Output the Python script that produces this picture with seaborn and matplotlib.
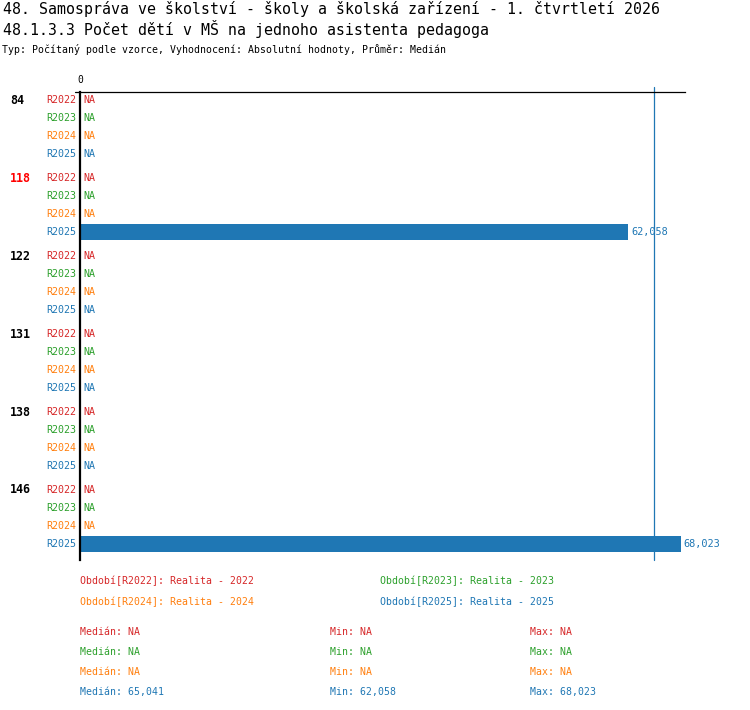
import numpy as np
import pandas as pd
from matplotlib import pyplot as plt
import seaborn as sns

# data
groups = ['84', '118', '122', '131', '138', '146']
periods = ['R2022', 'R2023', 'R2024', 'R2025']
r2022 = [np.nan] * 6
r2023 = [np.nan] * 6
r2024 = [np.nan] * 6
r2025 = [np.nan, 62058, np.nan, np.nan, np.nan, 68023]
highlight_group = '118'
legend_names = ['Realita - 2022', 'Realita - 2023', 'Realita - 2024', 'Realita - 2025']
stat_median = ['NA', 'NA', 'NA', '65,041']
stat_min = ['NA', 'NA', 'NA', '62,058']
stat_max = ['NA', 'NA', 'NA', '68,023']
median_value = 65041

colors = {'R2022': '#d62728', 'R2023': '#2ca02c', 'R2024': '#ff7f0e', 'R2025': '#1f77b4'}

W, H = 750, 710
group_step = 78 / 18  # rows are 18px apart, groups 78px apart

rows = []
for s, vals in zip(periods, [r2022, r2023, r2024, r2025]):
    for g, v in enumerate(vals):
        rows.append({'group': groups[g], 'period': s,
                     'pos': g * group_step + periods.index(s), 'value': v})
df = pd.DataFrame(rows)

sns.set_style('white')
plt.rcParams['font.family'] = ['DejaVu Sans Mono', 'DejaVu Sans']
plt.rcParams['text.color'] = 'black'

fig = plt.figure(figsize=(W / 100, H / 100), dpi=100)


def px(x, y):
    return x / W, 1 - y / H


ax_l, ax_r, ax_t, ax_b = 80, 685, 92, 560
ax = fig.add_axes([ax_l / W, 1 - ax_b / H, (ax_r - ax_l) / W, (ax_b - ax_t) / H])

# all rows (NA included) are passed so the bar width is relative to the row spacing
sns.barplot(data=df, x='value', y='pos', hue='period', palette=colors,
            orient='h', native_scale=True, dodge=False, width=16 / 18,
            errorbar=None, legend=False, ax=ax, saturation=1, linewidth=0)

ax.set_xlim(0, 68510)
ax.set_ylim((ax_b - 100) / 18, (ax_t - 100) / 18)
ax.set_xlabel('')
ax.set_ylabel('')
ax.set_yticks([])
ax.xaxis.tick_top()
ax.set_xticks([0])
ax.set_xticklabels(['0'], fontsize=7, color='black')
ax.tick_params(axis='x', length=0, pad=5)
for side in ['bottom', 'right']:
    ax.spines[side].set_visible(False)
ax.spines['top'].set_linewidth(0.9)
ax.spines['left'].set_linewidth(1.6)
ax.spines['top'].set_color('black')
ax.spines['left'].set_color('black')
ax.spines['left'].set_zorder(5)
ax.plot([-5 / 605, 0], [1, 1], transform=ax.transAxes, color='black',
        lw=0.9, clip_on=False)

# median line
ax.axvline(median_value, ymin=0, ymax=1 + 5 / 468, color=colors['R2025'],
           lw=0.9, clip_on=False, zorder=0)

ytr = ax.get_yaxis_transform()
for _, r in df.iterrows():
    c = colors[r['period']]
    ax.text(-4 / 605, r['pos'], r['period'], transform=ytr, ha='right',
            va='center', color=c, fontsize=7.2)
    if np.isnan(r['value']):
        ax.text(3 / 605, r['pos'], 'NA', transform=ytr, ha='left',
                va='center', color=c, fontsize=7.2)
    else:
        ax.annotate(f"{r['value']:,.0f}", (r['value'], r['pos']),
                    xytext=(2.2, 0), textcoords='offset points', ha='left',
                    va='center', color=c, fontsize=7.4)

for g, name in enumerate(groups):
    ax.text(-70 / 605, g * group_step, name, transform=ytr, ha='left',
            va='center', fontsize=8.4, fontweight='bold',
            color='#ff0000' if name == highlight_group else 'black')

# titles
fig.text(*px(3, 1), '48. Samospráva ve školství - školy a školská zařízení - 1. čtvrtletí 2026',
         fontsize=10.7, va='top', ha='left')
fig.text(*px(3, 20), '48.1.3.3 Počet dětí v MŠ na jednoho asistenta pedagoga',
         fontsize=10.7, va='top', ha='left')
fig.text(*px(2, 44), 'Typ: Počítaný podle vzorce, Vyhodnocení: Absolutní hodnoty, Průměr: Medián',
         fontsize=7.1, va='top', ha='left')

# legend
leg_pos = [(80, 581), (380, 581), (80, 602), (380, 602)]
for s, name, (x, y) in zip(periods, legend_names, leg_pos):
    fig.text(*px(x, y), f'Období[{s}]: {name}', color=colors[s],
             fontsize=7.1, va='center', ha='left')

for i, s in enumerate(periods):
    y = 632 + 20 * i
    fig.text(*px(80, y), f'Medián: {stat_median[i]}', color=colors[s], fontsize=7.1, va='center')
    fig.text(*px(330, y), f'Min: {stat_min[i]}', color=colors[s], fontsize=7.1, va='center')
    fig.text(*px(530, y), f'Max: {stat_max[i]}', color=colors[s], fontsize=7.1, va='center')

fig.savefig('out.png', dpi=100)
